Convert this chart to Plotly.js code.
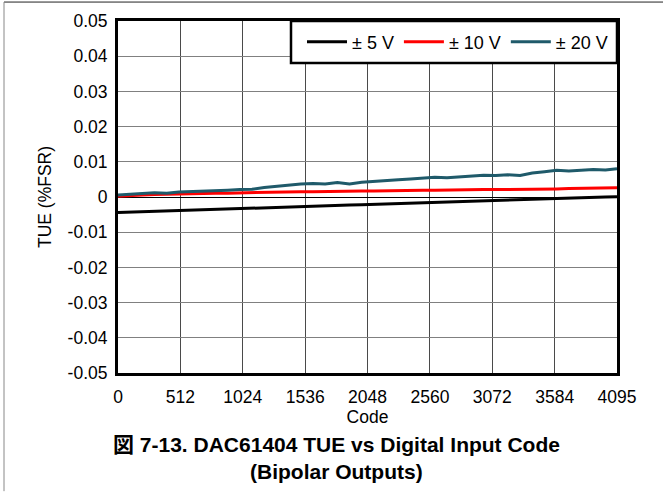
<!DOCTYPE html>
<html>
<head>
<meta charset="utf-8">
<script src="https://cdn.plot.ly/plotly-3.0.1.min.js"></script>
<style>
html,body{margin:0;padding:0;background:#fff;}
#chart{width:663px;height:492px;}
</style>
</head>
<body>
<div id="chart"></div>
<script>
// Data
const codes = [0,100,200,300,400,500,600,700,800,900,1000,1100,1200,1300,1400,1500,1600,1700,1800,1900,2000,2100,2200,2300,2400,2500,2600,2700,2800,2900,3000,3100,3200,3300,3400,3500,3600,3700,3800,3900,4000,4095];
const tue5V = [-0.0044,-0.0043,-0.0041,-0.0040,-0.0039,-0.0037,-0.0036,-0.0035,-0.0034,-0.0033,-0.0032,-0.0031,-0.0030,-0.0029,-0.0028,-0.0027,-0.0026,-0.0025,-0.0024,-0.0023,-0.0022,-0.0021,-0.0020,-0.0019,-0.0018,-0.0017,-0.0016,-0.0015,-0.0014,-0.0013,-0.0011,-0.0010,-0.0009,-0.0008,-0.0007,-0.0006,-0.0004,-0.0003,-0.0002,-0.0001,0.0000,0.0001];
const tue10V = [0.0002,0.0005,0.0006,0.0007,0.0008,0.0009,0.0009,0.0010,0.0011,0.0011,0.0012,0.0012,0.0013,0.0014,0.0014,0.0015,0.0015,0.0016,0.0016,0.0017,0.0017,0.0017,0.0018,0.0018,0.0019,0.0019,0.0019,0.0020,0.0020,0.0020,0.0021,0.0021,0.0021,0.0022,0.0022,0.0023,0.0023,0.0024,0.0024,0.0025,0.0025,0.0026];
const tue20V = [0.0006,0.0009,0.0010,0.0012,0.0011,0.0014,0.0015,0.0017,0.0016,0.0019,0.0021,0.0022,0.0027,0.0031,0.0034,0.0037,0.0038,0.0037,0.0041,0.0037,0.0042,0.0045,0.0047,0.0049,0.0051,0.0053,0.0056,0.0055,0.0058,0.0059,0.0062,0.0061,0.0063,0.0061,0.0068,0.0072,0.0076,0.0074,0.0076,0.0078,0.0077,0.0080];
const seriesNames = ['± 5 V','± 10 V','± 20 V'];
const xTickVals = [0,512,1024,1536,2048,2560,3072,3584,4095];
const xTickText = ['0','512','1024','1536','2048','2560','3072','3584','4095'];
const yTickVals = [0.05,0.04,0.03,0.02,0.01,0,-0.01,-0.02,-0.03,-0.04,-0.05];
const yTickText = ['0.05','0.04','0.03','0.02','0.01','0','-0.01','-0.02','-0.03','-0.04','-0.05'];

const FONT = 'Liberation Sans, Arial, Noto Sans CJK JP, sans-serif';
const L = 118, R = 617, T = 20.5, B = 373.5;
const pw = R - L, ph = B - T;
const px = v => (v - L) / pw;
const py = v => (B - v) / ph;

const traces = [
  {x: codes, y: tue5V, name: seriesNames[0], mode: 'lines', line: {color: '#000000', width: 3}},
  {x: codes, y: tue10V, name: seriesNames[1], mode: 'lines', line: {color: '#ff0000', width: 3}},
  {x: codes, y: tue20V, name: seriesNames[2], mode: 'lines', line: {color: '#1f5a6a', width: 3}}
];

const layout = {
  width: 663, height: 492,
  margin: {l: L, r: 663 - R, t: T, b: 492 - B, pad: 0},
  paper_bgcolor: '#fff', plot_bgcolor: '#fff',
  font: {family: FONT, color: '#000', size: 17},
  showlegend: true,
  legend: {orientation: 'h', x: px(613), xanchor: 'right', y: py(41.6), yanchor: 'middle',
           bgcolor: 'rgba(0,0,0,0)', borderwidth: 0, font: {size: 18, family: FONT},
           itemwidth: 40},
  xaxis: {range: [0, 4095], tickvals: xTickVals, ticktext: xTickText,
          showgrid: true, gridcolor: '#4a4a4a', gridwidth: 1,
          showline: true, linecolor: '#000', linewidth: 3, mirror: true,
          ticks: '', ticklabelstandoff: 6, zeroline: false,
          tickfont: {size: 17.5},
          title: {text: 'Code', font: {size: 17.5}, standoff: 0}},
  yaxis: {range: [-0.05, 0.05], tickvals: yTickVals, ticktext: yTickText,
          showgrid: true, gridcolor: '#808080', gridwidth: 1,
          showline: true, linecolor: '#000', linewidth: 3, mirror: true,
          ticks: '', ticklabelstandoff: 4, zeroline: true, zerolinecolor: '#000', zerolinewidth: 1,
          tickfont: {size: 17.5},
          title: {text: 'TUE (%FSR)', font: {size: 17.5}, standoff: 12}},
  shapes: [
    {type: 'rect', xref: 'paper', yref: 'paper', x0: px(291), x1: 1, y0: py(62.7), y1: 1,
     line: {color: '#000', width: 2.5}, fillcolor: '#fff', layer: 'above'},
    {type: 'line', xref: 'paper', yref: 'paper', x0: px(4), x1: px(663), y0: py(1.5), y1: py(1.5),
     line: {color: '#222', width: 1}},
    {type: 'line', xref: 'paper', yref: 'paper', x0: px(4), x1: px(4), y0: py(1.5), y1: py(492),
     line: {color: '#888', width: 1}}
  ],
  annotations: [
    {xref: 'paper', yref: 'paper', x: px(336), y: py(445), xanchor: 'center', yanchor: 'middle',
     text: '<b>図 7-13. DAC61404 TUE vs Digital Input Code</b>', showarrow: false,
     font: {size: 21, family: FONT}},
    {xref: 'paper', yref: 'paper', x: px(336), y: py(472), xanchor: 'center', yanchor: 'middle',
     text: '<b>(Bipolar Outputs)</b>', showarrow: false,
     font: {size: 21, family: FONT}}
  ]
};

Plotly.newPlot('chart', traces, layout, {displayModeBar: false, staticPlot: true});
</script>
</body>
</html>
